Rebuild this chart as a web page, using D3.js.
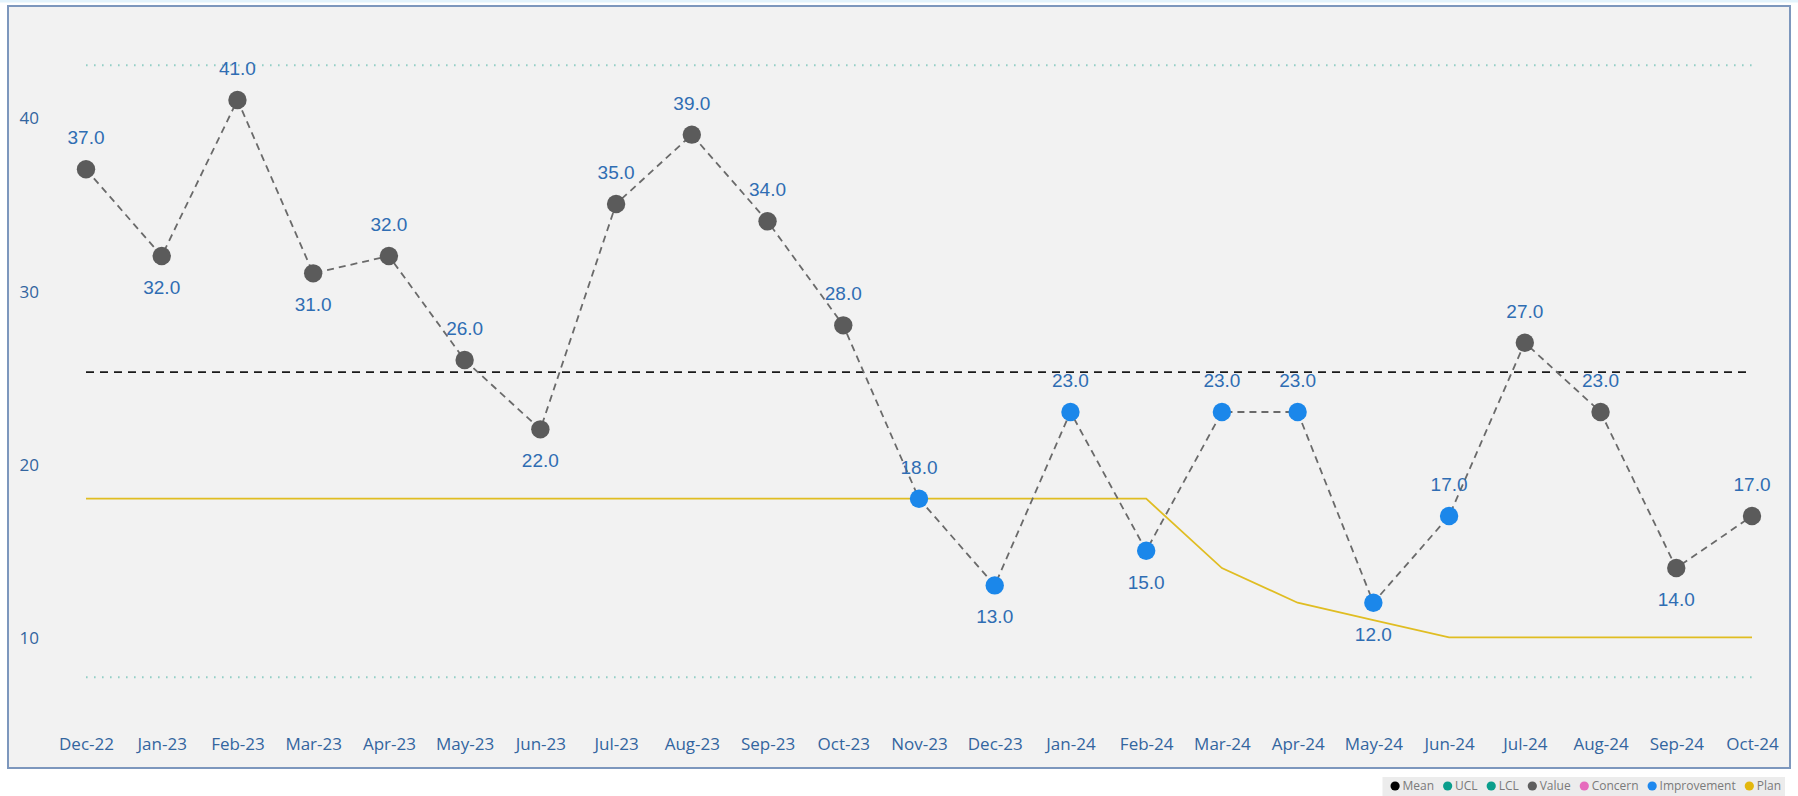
<!DOCTYPE html>
<html>
<head>
<meta charset="utf-8">
<script src="https://cdn.jsdelivr.net/npm/d3@7"></script>
<style>
  html, body { margin: 0; padding: 0; background: #ffffff; }
  svg { display: block; }
</style>
</head>
<body>
<svg id="chart" width="1798" height="796"></svg>
<script>
// Monthly values (SPC run chart)
const months = ["Dec-22","Jan-23","Feb-23","Mar-23","Apr-23","May-23","Jun-23","Jul-23","Aug-23","Sep-23","Oct-23","Nov-23",
                "Dec-23","Jan-24","Feb-24","Mar-24","Apr-24","May-24","Jun-24","Jul-24","Aug-24","Sep-24","Oct-24"];
const values = [37,32,41,31,32,26,22,35,39,34,28,18,13,23,15,23,23,12,17,27,23,14,17];
const plan   = [18,18,18,18,18,18,18,18,18,18,18,18,18,18,18,14,12,11,10,10,10,10,10];
// Point status: "value" (common cause) or "improvement" (special cause)
const status = ["value","value","value","value","value","value","value","value","value","value","value",
                "improvement","improvement","improvement","improvement","improvement","improvement","improvement","improvement",
                "value","value","value","value"];
const meanValue = 25.3;
const ucl = 43.0;
const lcl = 7.7;
const yTicks = [10, 20, 30, 40];
const legendItems = ["Mean","UCL","LCL","Value","Concern","Improvement","Plan"];

const colors = {
  Mean: "#000000", UCL: "#0a9e8c", LCL: "#0a9e8c", Value: "#5f5f5f",
  Concern: "#e66bbd", Improvement: "#1e88ee", Plan: "#e3b70e"
};
const pointColor = { value: "#5b5b5b", improvement: "#1b87ea" };

const svg = d3.select("#chart");

// frame
svg.append("rect").attr("x", 0).attr("y", 0).attr("width", 1798).attr("height", 2.5).attr("fill", "#e3f3fc");
svg.append("rect")
  .attr("x", 8).attr("y", 6).attr("width", 1782).attr("height", 762)
  .attr("fill", "#f2f2f2").attr("stroke", "#7d97bd").attr("stroke-width", 2);

const x = d3.scalePoint().domain(months).range([86, 1752]);
const y = d3.scaleLinear().domain([10, 40]).range([637.4, 117.3]);

const xFirst = x(months[0]), xLast = x(months[months.length - 1]);

// control limits
[ucl, lcl].forEach(v => {
  svg.append("line")
    .attr("x1", xFirst).attr("x2", xLast).attr("y1", y(v)).attr("y2", y(v))
    .attr("stroke", "#93cfc6").attr("stroke-width", 2)
    .attr("stroke-dasharray", "1.6,6.4");
});

// mean
svg.append("line")
  .attr("x1", xFirst).attr("x2", xLast).attr("y1", y(meanValue)).attr("y2", y(meanValue))
  .attr("stroke", "#1a1a1a").attr("stroke-width", 1.8)
  .attr("stroke-dasharray", "8,6");

// plan
svg.append("path")
  .datum(plan)
  .attr("fill", "none").attr("stroke", "#e0bd22").attr("stroke-width", 1.8)
  .attr("d", d3.line().x((d, i) => x(months[i])).y(d => y(d)));

// value line
svg.append("path")
  .datum(values)
  .attr("fill", "none").attr("stroke", "#6a6a6a").attr("stroke-width", 1.8)
  .attr("stroke-dasharray", "7,5")
  .attr("d", d3.line().x((d, i) => x(months[i])).y(d => y(d)));

// points
svg.append("g").selectAll("circle")
  .data(values)
  .join("circle")
  .attr("cx", (d, i) => x(months[i]))
  .attr("cy", d => y(d))
  .attr("r", 9.2)
  .attr("fill", (d, i) => pointColor[status[i]]);

// data labels: below local minima, above otherwise
function isTrough(i) {
  if (i === 0 || i === values.length - 1) return false;
  return values[i] < values[i - 1] && values[i] < values[i + 1];
}
svg.append("g").selectAll("text")
  .data(values)
  .join("text")
  .attr("x", (d, i) => x(months[i]))
  .attr("y", (d, i) => y(d) + (isTrough(i) ? 38 : -25))
  .attr("text-anchor", "middle")
  .attr("font-family", "'Liberation Sans', Arial, sans-serif")
  .attr("font-size", 19)
  .attr("fill", "#2f6db3")
  .text(d => d3.format(".1f")(d));

// y axis
const yAxis = svg.append("g")
  .attr("transform", "translate(42,0)")
  .call(d3.axisLeft(y).tickValues(yTicks).tickSize(0).tickPadding(3).tickFormat(d3.format("d")));
yAxis.select(".domain").remove();
yAxis.selectAll("text")
  .attr("font-family", "'Open Sans', sans-serif")
  .attr("font-size", 17)
  .attr("fill", "#33659f")
  .attr("dy", "0.38em");

// x axis
const xAxis = svg.append("g")
  .attr("transform", "translate(0,744)")
  .call(d3.axisBottom(x).tickSize(0).tickPadding(0));
xAxis.select(".domain").remove();
xAxis.selectAll("text")
  .attr("font-family", "'Open Sans', sans-serif")
  .attr("font-size", 17)
  .attr("fill", "#33659f")
  .attr("y", 0)
  .attr("dy", "0.36em");

// legend
const legend = svg.append("g");
const legendBg = legend.append("rect").attr("fill", "#ececec");
let lx = 0;
const items = legend.append("g");
legendItems.forEach(name => {
  const g = items.append("g").attr("transform", `translate(${lx},0)`);
  g.append("circle").attr("cx", 4.6).attr("cy", 0).attr("r", 4.6).attr("fill", colors[name]);
  const t = g.append("text")
    .attr("x", 12).attr("y", 0).attr("dy", "0.35em")
    .attr("font-family", "'Open Sans', sans-serif")
    .attr("font-size", 12)
    .attr("fill", "#7a7a7a")
    .text(name);
  lx += 12 + t.node().getComputedTextLength() + 9;
});
const legendWidth = lx - 9;
const legendRight = 1781;
const legendY = 786;
items.attr("transform", `translate(${legendRight - legendWidth},${legendY})`);
legendBg
  .attr("x", legendRight - legendWidth - 8).attr("y", 777)
  .attr("width", legendWidth + 12).attr("height", 19);
</script>
</body>
</html>
